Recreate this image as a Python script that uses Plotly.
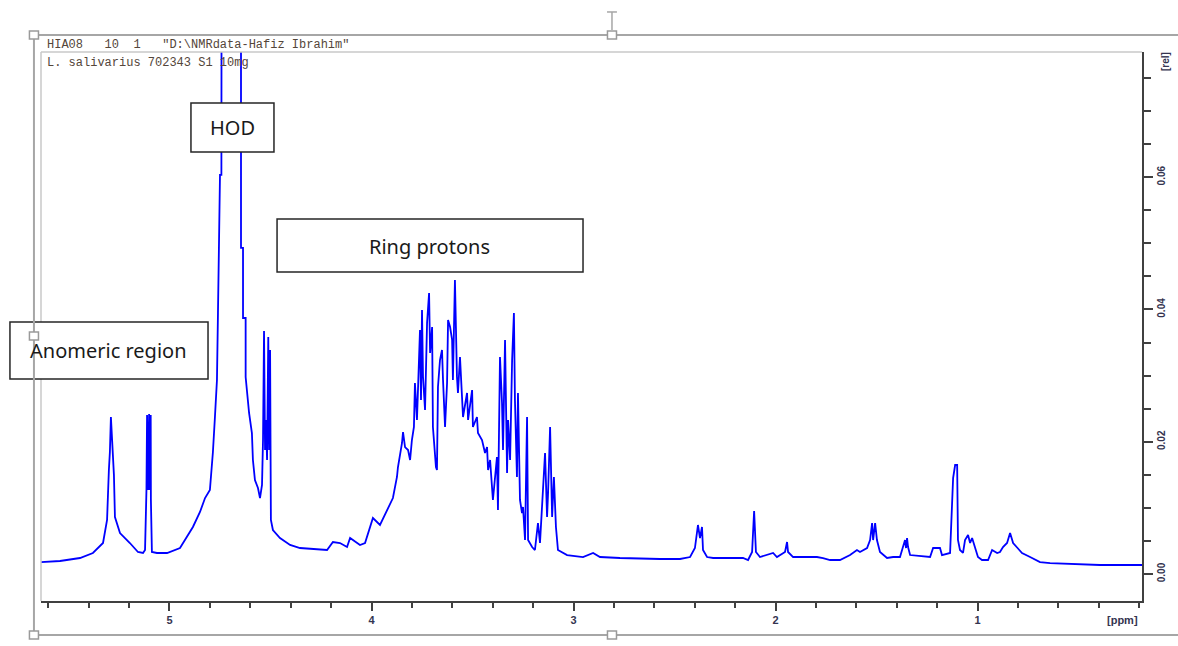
import plotly.graph_objects as go

# Chemical shift (ppm) and relative intensity
ppm = [5.636, 5.542, 5.443, 5.379, 5.329, 5.309, 5.300, 5.295, 5.290, 5.285,
       5.280, 5.275, 5.270, 5.245, 5.196, 5.156, 5.131, 5.121, 5.114, 5.111,
       5.106, 5.101, 5.097, 5.093, 5.092, 5.087, 5.062, 5.012, 4.948, 4.884,
       4.849, 4.824, 4.800, 4.785, 4.775, 4.765, 4.760, 4.750, 4.743, 4.740,
       4.646, 4.646, 4.636, 4.636, 4.623, 4.623, 4.606, 4.592, 4.587, 4.577,
       4.562, 4.552, 4.542, 4.537, 4.532, 4.527, 4.522, 4.517, 4.511, 4.507,
       4.502, 4.500, 4.498, 4.488, 4.453, 4.403, 4.354, 4.220, 4.191, 4.156,
       4.121, 4.106, 4.057, 4.032, 3.993, 3.958, 3.894, 3.874, 3.869, 3.849,
       3.844, 3.834, 3.819, 3.809, 3.800, 3.790, 3.785, 3.775, 3.760, 3.755,
       3.750, 3.745, 3.735, 3.725, 3.715, 3.710, 3.700, 3.696, 3.681, 3.676,
       3.671, 3.661, 3.651, 3.646, 3.636, 3.626, 3.621, 3.611, 3.601, 3.597,
       3.587, 3.577, 3.572, 3.562, 3.552, 3.547, 3.527, 3.522, 3.502, 3.498,
       3.478, 3.473, 3.453, 3.438, 3.428, 3.423, 3.413, 3.403, 3.399, 3.379,
       3.374, 3.364, 3.354, 3.349, 3.339, 3.329, 3.324, 3.314, 3.304, 3.295,
       3.290, 3.280, 3.275, 3.265, 3.255, 3.250, 3.240, 3.230, 3.225, 3.205,
       3.191, 3.176, 3.166, 3.156, 3.141, 3.131, 3.126, 3.116, 3.106, 3.097,
       3.087, 3.077, 3.032, 2.953, 2.903, 2.869, 2.770, 2.572, 2.473, 2.423,
       2.399, 2.384, 2.374, 2.364, 2.359, 2.339, 2.309, 2.161, 2.136, 2.116,
       2.106, 2.097, 2.077, 2.012, 1.993, 1.953, 1.943, 1.938, 1.913, 1.795,
       1.765, 1.730, 1.681, 1.631, 1.597, 1.582, 1.547, 1.532, 1.522, 1.517,
       1.507, 1.498, 1.483, 1.448, 1.418, 1.384, 1.369, 1.359, 1.354, 1.349,
       1.344, 1.334, 1.235, 1.220, 1.186, 1.176, 1.136, 1.126, 1.121, 1.111,
       1.101, 1.097, 1.087, 1.072, 1.062, 1.047, 1.037, 1.027, 1.012, 0.998,
       0.978, 0.948, 0.928, 0.903, 0.889, 0.874, 0.854, 0.839, 0.824, 0.804,
       0.780, 0.740, 0.691, 0.641, 0.527, 0.394, 0.186]

intensity = [0.00181, 0.00197, 0.00242, 0.00318, 0.00469, 0.00817, 0.01573, 0.01845, 0.02374, 0.02026,
             0.01724, 0.01497, 0.00862, 0.00620, 0.00469, 0.00333, 0.00318, 0.00363, 0.01270, 0.02404,
             0.01270, 0.02419, 0.01270, 0.02404, 0.01119, 0.00333, 0.00318, 0.00318, 0.00393, 0.00711,
             0.00938, 0.01149, 0.01270, 0.01845, 0.02374, 0.02934, 0.03947, 0.06034, 0.06034, 0.18000,
             0.18000, 0.04930, 0.04930, 0.03871, 0.03871, 0.02979, 0.02435, 0.02132, 0.01724, 0.01421,
             0.01300, 0.01149, 0.01346, 0.02026, 0.03675, 0.01875, 0.02329, 0.01724, 0.03584, 0.01875,
             0.03387, 0.01225, 0.00817, 0.00665, 0.00544, 0.00439, 0.00393, 0.00363, 0.00484, 0.00469,
             0.00408, 0.00544, 0.00439, 0.00469, 0.00847, 0.00741, 0.01149, 0.01467, 0.01618, 0.01981,
             0.02147, 0.01920, 0.01875, 0.01724, 0.02026, 0.02223, 0.02888, 0.02329, 0.03690, 0.02631,
             0.03992, 0.02979, 0.02480, 0.03796, 0.04249, 0.03342, 0.03735, 0.02223, 0.01618, 0.01573,
             0.02828, 0.03236, 0.03387, 0.02934, 0.02223, 0.02888, 0.03841, 0.03735, 0.03539, 0.02934,
             0.04446, 0.02979, 0.02737, 0.03281, 0.02631, 0.02374, 0.02737, 0.02329, 0.02782, 0.02223,
             0.02374, 0.02132, 0.02026, 0.01830, 0.01920, 0.01573, 0.01724, 0.01316, 0.01119, 0.01769,
             0.00968, 0.03281, 0.02586, 0.01875, 0.03539, 0.01527, 0.02329, 0.01724, 0.03236, 0.03947,
             0.02631, 0.01467, 0.02737, 0.01119, 0.00922, 0.01013, 0.00514, 0.02374, 0.00514, 0.00408,
             0.00363, 0.00771, 0.00469, 0.01013, 0.01830, 0.00862, 0.01225, 0.02223, 0.00862, 0.01467,
             0.00711, 0.00363, 0.00287, 0.00257, 0.00318, 0.00257, 0.00242, 0.00227, 0.00227, 0.00257,
             0.00393, 0.00741, 0.00544, 0.00711, 0.00363, 0.00257, 0.00242, 0.00242, 0.00212, 0.00333,
             0.00953, 0.00333, 0.00257, 0.00318, 0.00257, 0.00333, 0.00484, 0.00333, 0.00257, 0.00257,
             0.00242, 0.00212, 0.00212, 0.00287, 0.00363, 0.00333, 0.00393, 0.00514, 0.00771, 0.00514,
             0.00771, 0.00514, 0.00333, 0.00242, 0.00257, 0.00257, 0.00393, 0.00514, 0.00393, 0.00544,
             0.00408, 0.00287, 0.00257, 0.00393, 0.00393, 0.00287, 0.00318, 0.01074, 0.01452, 0.01648,
             0.01648, 0.00514, 0.00363, 0.00318, 0.00514, 0.00590, 0.00469, 0.00544, 0.00408, 0.00257,
             0.00212, 0.00212, 0.00363, 0.00318, 0.00333, 0.00408, 0.00469, 0.00620, 0.00469, 0.00393,
             0.00318, 0.00257, 0.00181, 0.00166, 0.00151, 0.00136, 0.00136]

x_range = [5.636, 0.186]
y_range = [-0.00408, 0.07893]
x_tick_values = [5, 4, 3, 2, 1]
x_minor_step = 0.2
y_tick_step = 0.02
y_minor_step = 0.005

header_line1 = 'HIA08   10  1   "D:\\NMRdata-Hafiz Ibrahim"'
header_line2 = "L. salivarius 702343 S1 10mg"
labels = ["HOD", "Ring protons", "Anomeric region"]

fig = go.Figure()
fig.add_trace(go.Scatter(x=ppm, y=intensity, mode="lines",
                         line=dict(color="#0000ff", width=1.8),
                         hoverinfo="x+y", showlegend=False))

axis_col = "#404040"
lab_col = "#343450"
tick_font = dict(family="Liberation Sans, Arial, sans-serif", size=11, color=lab_col, weight="bold")

fig.update_xaxes(range=x_range, showgrid=False, zeroline=False,
                 showline=True, linecolor=axis_col, linewidth=2,
                 ticks="outside", ticklen=8, tickwidth=2, tickcolor=axis_col,
                 tickfont=tick_font,
                 tickvals=x_tick_values, ticktext=[str(v) for v in x_tick_values],
                 minor=dict(tick0=0, dtick=x_minor_step, ticks="outside", ticklen=5,
                            tickwidth=2, tickcolor=axis_col),
                 automargin=False, fixedrange=True)
fig.update_yaxes(range=y_range, side="right", showgrid=False, zeroline=False,
                 showline=True, linecolor=axis_col, linewidth=2,
                 ticks="outside", ticklen=9, tickwidth=2, tickcolor=axis_col,
                 tick0=0, dtick=y_tick_step, tickformat=".2f", tickangle=-90,
                 tickfont=dict(family="Liberation Sans, Arial, sans-serif", size=10,
                               color=lab_col, weight="bold"),
                 minor=dict(tick0=0, dtick=y_minor_step, ticks="outside", ticklen=7,
                            tickwidth=2, tickcolor=axis_col),
                 automargin=False, fixedrange=True)

shapes = []
# inner frame (left and top borders)
shapes.append(dict(type="line", xref="paper", yref="paper", x0=0, x1=0, y0=0, y1=1,
                   line=dict(color="#c8c8c8", width=1.5)))
shapes.append(dict(type="line", xref="paper", yref="paper", x0=0, x1=1, y0=1, y1=1,
                   line=dict(color="#c8c8c8", width=1.5)))
# label boxes
box_line = dict(color="#262626", width=1.5)
shapes.append(dict(type="rect", xref="paper", yref="paper", x0=0.1362, x1=0.2116,
                   y0=0.8179, y1=0.9071, line=box_line, fillcolor="white"))
shapes.append(dict(type="rect", xref="paper", yref="paper", x0=0.2144, x1=0.4923,
                   y0=0.5993, y1=0.6958, line=box_line, fillcolor="white"))
shapes.append(dict(type="rect", xref="paper", yref="paper", x0=-0.0282, x1=0.1517,
                   y0=0.4044, y1=0.5082, line=box_line, fillcolor="white"))
# outer selection frame
frame = dict(color="#a6a6a6", width=2)
fx0, fx1, fy0, fy1 = -0.0064, 1.04, -0.0620, 1.031
shapes.append(dict(type="line", xref="paper", yref="paper", x0=fx0, x1=fx1, y0=fy1, y1=fy1, line=frame))
shapes.append(dict(type="line", xref="paper", yref="paper", x0=fx0, x1=fx1, y0=fy0, y1=fy0, line=frame))
shapes.append(dict(type="line", xref="paper", yref="paper", x0=fx0, x1=fx0, y0=fy0, y1=fy1, line=frame))
# rotation handle at top centre
shapes.append(dict(type="line", xref="paper", yref="paper", x0=0.5186, x1=0.5186, y0=1.040, y1=1.0729,
                   line=dict(color="#a6a6a6", width=1.5)))
shapes.append(dict(type="line", xref="paper", yref="paper", x0=0.5141, x1=0.5231, y0=1.0729, y1=1.0729,
                   line=dict(color="#a6a6a6", width=1.5)))
# sizing handles
hw, hh = 0.0041, 0.0073
for hx, hy in [(fx0, fy1), (0.5186, fy1), (fx0, 0.4827), (fx0, fy0), (0.5186, fy0)]:
    shapes.append(dict(type="rect", xref="paper", yref="paper", x0=hx - hw, x1=hx + hw,
                       y0=hy - hh, y1=hy + hh, fillcolor="white",
                       line=dict(color="#9a9a9a", width=1.5)))

label_font = dict(family="Noto Sans, Open Sans, sans-serif", size=20, color="#1a1a1a")
mono_font = dict(family="Liberation Mono, Courier New, monospace", size=12, color="#54463a")
unit_font = dict(family="Liberation Sans, Arial, sans-serif", size=11, color=lab_col, weight="bold")
annotations = [
    dict(text=labels[0], x=0.1739, y=0.8625, xref="paper", yref="paper",
         xanchor="center", yanchor="middle", showarrow=False, font=label_font),
    dict(text=labels[1], x=0.3533, y=0.6466, xref="paper", yref="paper",
         xanchor="center", yanchor="middle", showarrow=False, font=label_font),
    dict(text=labels[2], x=0.0609, y=0.4554, xref="paper", yref="paper",
         xanchor="center", yanchor="middle", showarrow=False, font=label_font),
    dict(text=header_line1, x=0.0036, y=1.0128, xref="paper", yref="paper",
         xanchor="left", yanchor="middle", showarrow=False, font=mono_font),
    dict(text=header_line2, x=0.0036, y=0.9800, xref="paper", yref="paper",
         xanchor="left", yanchor="middle", showarrow=False, font=mono_font),
    dict(text="[rel]", x=1.0218, y=0.9818, xref="paper", yref="paper", textangle=-90,
         xanchor="center", yanchor="middle", showarrow=False,
         font=dict(family="Liberation Sans, Arial, sans-serif", size=10, color=lab_col, weight="bold")),
    dict(text="[ppm]", x=0.9827, y=-0.0346, xref="paper", yref="paper",
         xanchor="center", yanchor="middle", showarrow=False, font=unit_font),
]

fig.update_layout(width=1178, height=646,
                  margin=dict(l=41, r=36, t=52, b=45, pad=0, autoexpand=False),
                  paper_bgcolor="white", plot_bgcolor="white",
                  shapes=shapes, annotations=annotations, showlegend=False)

fig.write_html("out.html", config={"displayModeBar": False},
               post_script="document.body.style.margin='0px';document.body.style.overflow='hidden';")
